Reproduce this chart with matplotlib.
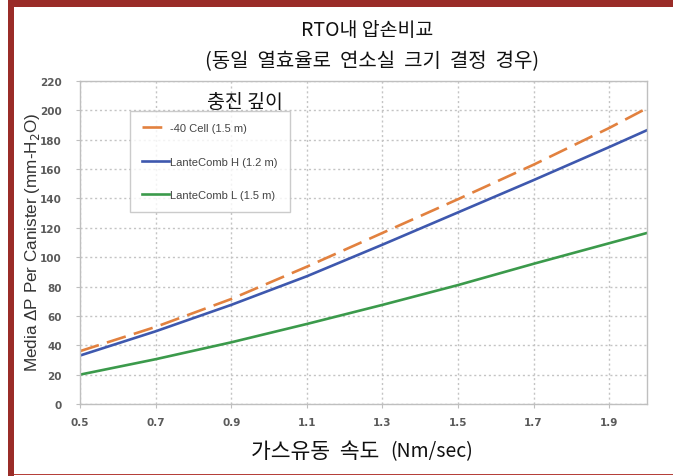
import matplotlib
matplotlib.use("Agg")
import matplotlib.pyplot as plt
from matplotlib.patches import Rectangle

velocity = [0.5, 0.7, 0.9, 1.1, 1.3, 1.5, 1.7, 1.9, 2.0]
cell40 = [36, 52.5, 71.5, 93.5, 116.5, 139.5, 163, 188, 201.5]
lante_h = [33, 49.5, 67.5, 87, 108.5, 130.5, 152.5, 175, 186.5]
lante_l = [20, 30.5, 42, 54.5, 67.5, 81, 95.5, 109.5, 116.5]
labels = ["-40 Cell (1.5 m)", "LanteComb H (1.2 m)", "LanteComb L (1.5 m)"]
xticks = [0.5, 0.7, 0.9, 1.1, 1.3, 1.5, 1.7, 1.9]
yticks = list(range(0, 221, 20))

KR = ["Noto Sans CJK KR", "DejaVu Sans"]
W, H = 673, 477
fig = plt.figure(figsize=(W / 100, H / 100), dpi=100)

# frame decoration
red = "#9A2C28"
fig.patches.append(Rectangle((8 / W, 1 - 8 / H), 1 - 8 / W, 8 / H, transform=fig.transFigure,
                             facecolor=red, edgecolor="none", zorder=0))
fig.patches.append(Rectangle((8 / W, 0), 6 / W, 1, transform=fig.transFigure,
                             facecolor=red, edgecolor="none", zorder=0))
fig.patches.append(Rectangle((14 / W, 1 - 476 / H), 1 - 14 / W, 1.5 / H, transform=fig.transFigure,
                             facecolor="#B5403A", edgecolor="none", zorder=0))

ax = fig.add_axes([80 / W, 1 - 405 / H, (647 - 80) / W, (405 - 82) / H])
ax.plot(velocity, cell40, color="#E2813F", lw=1.9, dashes=(7.5, 3.2), label=labels[0])
ax.plot(velocity, lante_h, color="#3E58AE", lw=1.9, label=labels[1])
ax.plot(velocity, lante_l, color="#3B9A4B", lw=1.9, label=labels[2])

ax.set_xlim(0.5, 2.0)
ax.set_ylim(0, 220)
ax.set_xticks(xticks)
ax.set_xticklabels([f"{v:.1f}" for v in xticks])
ax.set_yticks(yticks)
ax.tick_params(axis="both", labelsize=7.5, colors="#BFBFBF", length=3, width=0.8,
               labelcolor="#5A5A5A")
ax.tick_params(axis="x", pad=6)
ax.tick_params(axis="y", pad=10)
for t in ax.get_xticklabels() + ax.get_yticklabels():
    t.set_fontweight("bold")
ax.grid(True, color="#C4C4C4", linestyle=(0, (1.5, 2)), linewidth=1.0)
for s in ax.spines.values():
    s.set_color("#BFBFBF")
    s.set_linewidth(1.0)

ax.set_ylabel("Media ΔP Per Canister (mm-H$_2$O)", fontsize=12.3, color="#333333",
              family="Liberation Sans")
ax.yaxis.set_label_coords(-38 / 567, (405 - 242) / 323)

leg = ax.legend(loc="upper left", bbox_to_anchor=(50 / 567, 1 - 30 / 323),
                fontsize=8, frameon=True, fancybox=False, labelspacing=2.1,
                handlelength=2.4, handletextpad=0.1, borderpad=1.1, borderaxespad=0)
leg.get_frame().set_edgecolor("#BFBFBF")
leg.get_frame().set_linewidth(1.0)
for t in leg.get_texts():
    t.set_color("#444444")
    t.set_family("Liberation Sans")

fig.text(367 / W, 1 - 30 / H, "RTO내 압손비교", ha="center", va="center", fontsize=14,
         family=KR, color="#111111")
fig.text(372 / W, 1 - 62 / H, "(동일  열효율로  연소실  크기  결정  경우)", ha="center", va="center",
         fontsize=14.4, family=KR, color="#111111")
fig.text(207 / W, 1 - 103 / H, "충진 깊이", ha="left", va="center", fontsize=14,
         family=KR, color="#111111")
fig.text(379 / W, 1 - 452 / H, "가스유동  속도", ha="right", va="center", fontsize=15.5,
         family=KR, color="#111111")
fig.text(390 / W, 1 - 452 / H, "(Nm/sec)", ha="left", va="center", fontsize=14,
         family=KR, color="#111111")

fig.savefig("out.png", dpi=100)
